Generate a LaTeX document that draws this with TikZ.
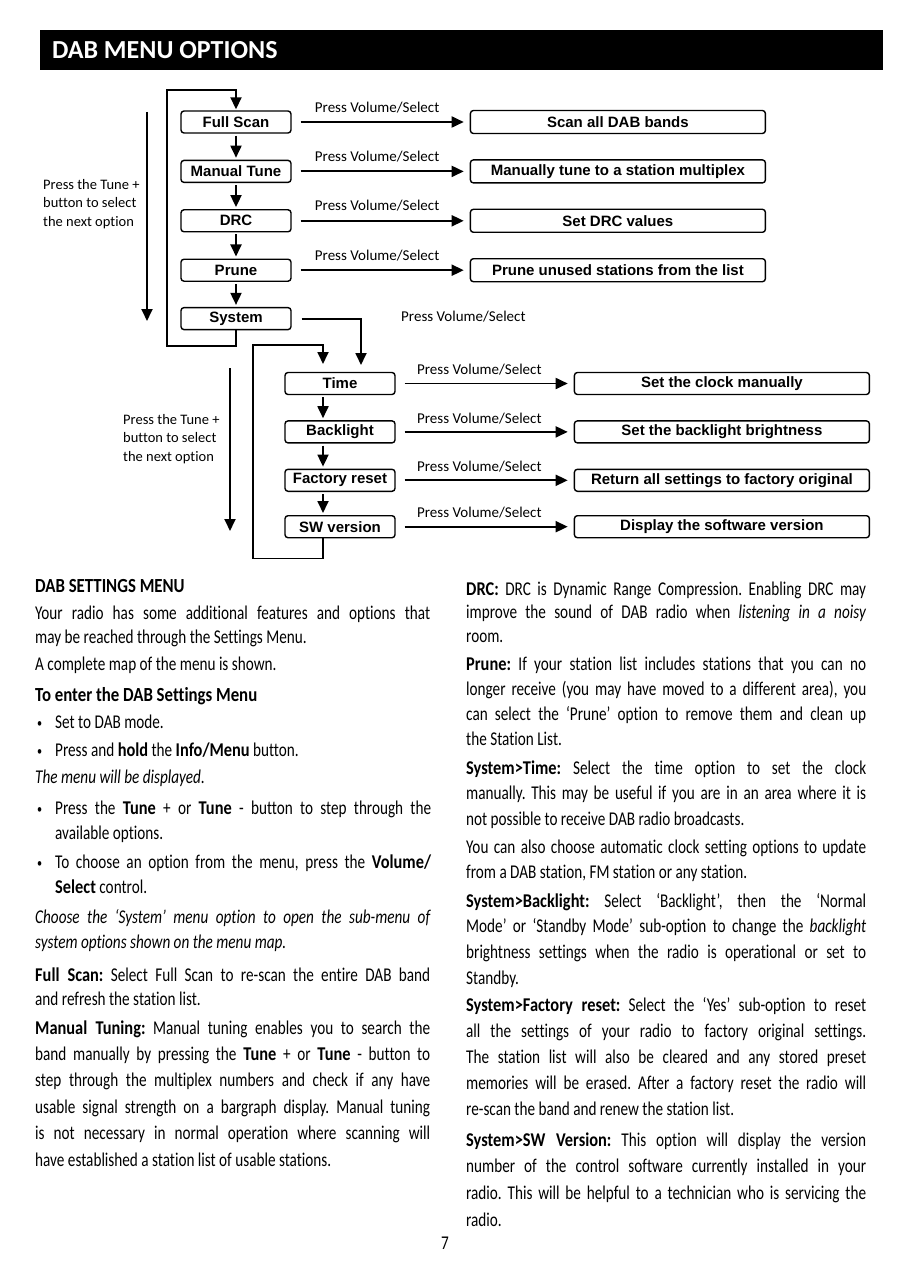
\documentclass[tikz,border=0pt]{standalone}
\usepackage{fontspec}
\setmainfont{Liberation Sans}
\newfontfamily\bodyfont[FakeStretch=0.78, RawFeature=-liga, BoldFeatures={FakeStretch=0.84}]{Carlito}
\newfontfamily\labelfont[RawFeature=-liga]{Carlito}
\usetikzlibrary{arrows.meta,positioning,calc}
\tolerance=10000
\hyphenpenalty=10000
\exhyphenpenalty=10000
\frenchspacing
\newcommand{\bul}{\llap{\raisebox{1pt}{\fontsize{13}{13}\selectfont •}\hspace{13pt}}}

\begin{document}
\begin{tikzpicture}[x=1pt, y=-1pt,
  menubox/.style={draw, line width=1.4pt, rounded corners=3pt, minimum width=110pt, minimum height=22pt, inner sep=0pt, font=\fontsize{15}{18}\selectfont\bfseries},
  resultbox/.style={menubox, minimum width=295pt},
  flow/.style={line width=1.8pt, -{Triangle[length=12pt,width=11pt]}},
  pvs/.style={font=\labelfont\fontsize{15}{18}\selectfont},
  hint/.style={font=\labelfont\fontsize{14.5}{18.5}\selectfont, align=left, inner sep=0pt},
  para/.style={anchor=base west, inner sep=0pt, text width=395pt, align=justify, font=\bodyfont\fontsize{19.5}{#1}\selectfont},
  para/.default=25.5,
  bulpara/.style={para=#1, text width=376pt}]
\fill[white] (0,0) rectangle (897,1265);
\useasboundingbox (0,0) rectangle (897,1265);

% title bar
\node[fill=black, minimum width=843pt, minimum height=40pt, inner sep=0pt] (titlebar) at (461.5,50) {};
\node[anchor=west, text=white, inner sep=0pt, font=\labelfont\bfseries\fontsize{26}{30}\selectfont] (title) at ([xshift=12pt]titlebar.west) {DAB MENU OPTIONS};

% main menu
\node[menubox] (fullscan) at (236,122) {Full Scan};
\node[menubox, below=26pt of fullscan] (manual) {Manual Tune};
\node[menubox, below=26pt of manual] (drc) {DRC};
\node[menubox, below=26pt of drc] (prune) {Prune};
\node[menubox, below=25pt of prune] (system) {System};

\node[resultbox, minimum height=23pt, right=178pt of fullscan] (scanall) {Scan all DAB bands};
\node[resultbox, minimum height=23pt, right=178pt of manual] (tunemux) {Manually tune to a station multiplex};
\node[resultbox, minimum height=23pt, right=178pt of drc] (setdrc) {Set DRC values};
\node[resultbox, minimum height=23pt, right=178pt of prune] (pruneall) {Prune unused stations from the list};

\foreach \a/\b in {fullscan/scanall, manual/tunemux, drc/setdrc, prune/pruneall}
  \draw[flow, shorten <=9pt, shorten >=6pt] (\a) -- node[pvs, above=5pt, pos=0.48] {Press Volume/Select} (\b);
\foreach \a/\b in {fullscan/manual, manual/drc, drc/prune, prune/system}
  \draw[flow, shorten <=2pt, shorten >=2pt] (\a) -- (\b);

\coordinate (uploop) at (167,90);
\draw[flow, shorten >=1pt] (system.south) -- ++(0,16) -| (uploop) -| (fullscan.north);

\coordinate (tunetop) at (147,112);
\coordinate (tunebot) at (147,321);
\draw[flow] (tunetop) -- (tunebot);
\node[hint, anchor=west] (hintmain) at (43,204) {Press the Tune +\\button to select\\the next option};

\coordinate (sysdrop) at (361,365);
\draw[flow, shorten <=10pt] (system.east) -| node[pvs, pos=0.5, right=36pt, yshift=2pt] {Press Volume/Select} (sysdrop);

% system sub-menu
\node[menubox] (time) at (340,383.5) {Time\hspace{34pt}};
\node[menubox, below=25pt of time] (backlight) {Backlight};
\node[menubox, below=25pt of backlight] (factory) {Factory reset};
\node[menubox, below=23pt of factory] (swver) {SW version};

\node[resultbox, right=178pt of time] (setclock) {Set the clock manually};
\node[resultbox, right=178pt of backlight] (setbright) {Set the backlight brightness};
\node[resultbox, right=178pt of factory] (resetall) {Return all settings to factory original};
\node[resultbox, right=178pt of swver] (showsw) {Display the software version};

\foreach \a/\b in {time/setclock, backlight/setbright, factory/resetall, swver/showsw}
  \draw[flow, shorten <=9pt, shorten >=6pt] (\a) -- node[pvs, above=4pt, pos=0.47] {Press Volume/Select} (\b);
\foreach \a/\b in {time/backlight, backlight/factory, factory/swver}
  \draw[flow, shorten <=2pt, shorten >=2pt] ([xshift=-17pt]\a.south) -- ([xshift=-17pt]\b.north);

\coordinate (lowloop) at (253,345);
\coordinate (timein) at (323,364);
\draw[flow] ([xshift=-17pt]swver.south) -- ++(0,20) -| (lowloop) -| (timein);

\coordinate (subtop) at (230,368);
\coordinate (subbot) at (230,531);
\draw[flow] (subtop) -- (subbot);
\node[hint, anchor=west] (hintsub) at (123,439) {Press the Tune +\\button to select\\the next option};

% left column
\node[para, font=\bodyfont\fontsize{20}{25}\selectfont] (settingshead) at (35,592) {\textbf{DAB SETTINGS MENU}};
\node[para=24] (intro) at (35,619) {Your radio has some additional features and options that\linebreak may be reached through the Settings Menu.};
\node[para] (mapnote) at (35,670) {A complete map of the menu is shown.};
\node[para, font=\bodyfont\fontsize{20}{25}\selectfont] (enterhead) at (35,701) {\textbf{To enter the DAB Settings Menu}};
\node[bulpara=25.5] (stepmode) at (55,728) {\bul Set to DAB mode.};
\node[bulpara=25.5] (stephold) at (55,756) {\bul Press and \textbf{hold} the \textbf{Info/Menu} button.};
\node[para] (shown) at (35,783) {\textit{The menu will be displayed.}};
\node[bulpara=25] (steptune) at (55,814) {\bul Press the \textbf{Tune} + or \textbf{Tune} - button to step through the\linebreak available options.};
\node[bulpara=25] (stepvol) at (55,868) {\bul To choose an option from the menu, press the \textbf{Volume/}\linebreak\textbf{Select} control.};
\node[para=25] (choosesys) at (35,923) {\textit{Choose the ‘System’ menu option to open the sub-menu of\linebreak system options shown on the menu map.}};
\node[para=24] (fulltext) at (35,981) {\textbf{Full Scan:} Select Full Scan to re-scan the entire DAB band\linebreak and refresh the station list.};
\node[para=26.4] (manualtext) at (35,1034) {\textbf{Manual Tuning:} Manual tuning enables you to search the\linebreak band manually by pressing the \textbf{Tune} + or \textbf{Tune} - button to\linebreak step through the multiplex numbers and check if any have\linebreak usable signal strength on a bargraph display. Manual tuning\linebreak is not necessary in normal operation where scanning will\linebreak have established a station list of usable stations.};

% right column
\node[para=23.5, text width=400pt] (drctext) at (466,595) {\textbf{DRC:} DRC is Dynamic Range Compression. Enabling DRC may\linebreak improve the sound of DAB radio when \textit{listening in a noisy}\linebreak room.};
\node[para=25, text width=400pt] (prunetext) at (466,670) {\textbf{Prune:} If your station list includes stations that you can no\linebreak longer receive (you may have moved to a different area), you\linebreak can select the ‘Prune’ option to remove them and clean up\linebreak the Station List.};
\node[para=25.5, text width=400pt] (timetext) at (466,774) {\textbf{System>Time:} Select the time option to set the clock\linebreak manually. This may be useful if you are in an area where it is\linebreak not possible to receive DAB radio broadcasts.};
\node[para=25, text width=400pt] (autotext) at (466,853) {You can also choose automatic clock setting options to update\linebreak from a DAB station, FM station or any station.};
\node[para=25.7, text width=400pt] (backtext) at (466,907) {\textbf{System>Backlight:} Select ‘Backlight’, then the ‘Normal\linebreak Mode’ or ‘Standby Mode’ sub-option to change the \textit{backlight}\linebreak brightness settings when the radio is operational or set to\linebreak Standby.};
\node[para=26, text width=400pt] (facttext) at (466,1011) {\textbf{System>Factory reset:} Select the ‘Yes’ sub-option to reset\linebreak all the settings of your radio to factory original settings.\linebreak The station list will also be cleared and any stored preset\linebreak memories will be erased. After a factory reset the radio will\linebreak re-scan the band and renew the station list.};
\node[para=26.7, text width=400pt] (swtext) at (466,1146) {\textbf{System>SW Version:} This option will display the version\linebreak number of the control software currently installed in your\linebreak radio. This will be helpful to a technician who is servicing the\linebreak radio.};

\node[font=\bodyfont\fontsize{19.5}{20}\selectfont, inner sep=0pt] (pageno) at (445,1243) {7};
\end{tikzpicture}
\end{document}
